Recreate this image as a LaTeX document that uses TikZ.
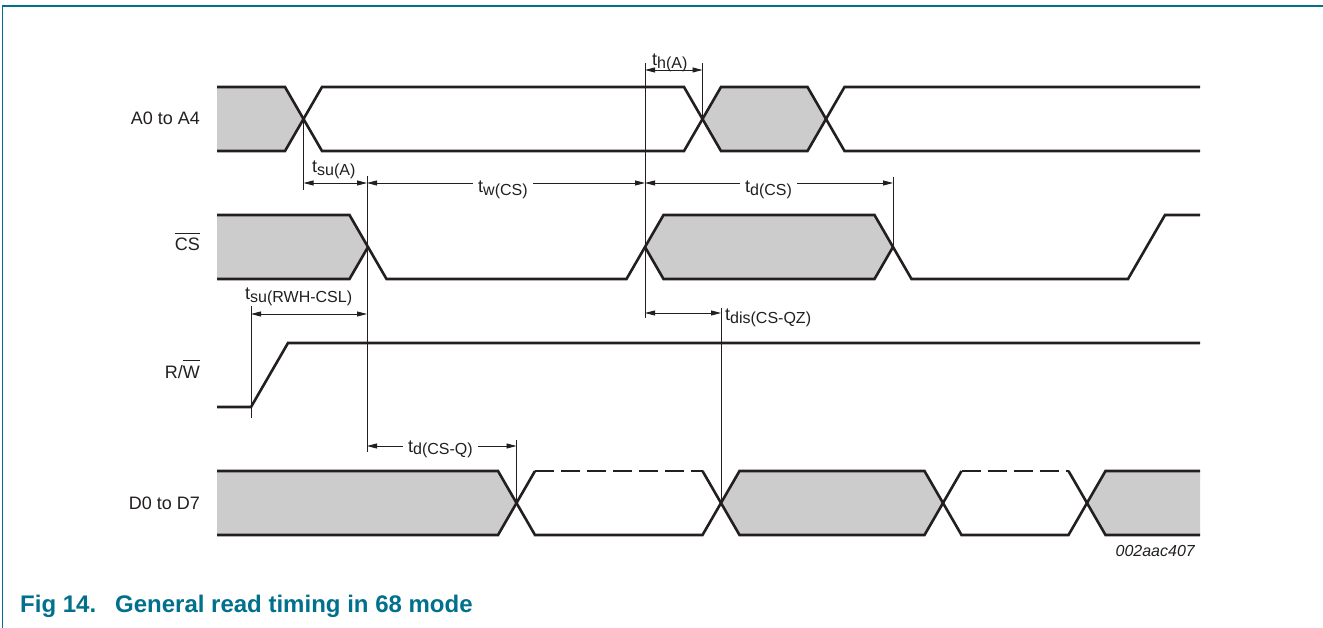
\documentclass[tikz,border=0pt]{standalone}
\usepackage{fontspec}
\setmainfont{Liberation Sans}
\usetikzlibrary{arrows.meta}
\definecolor{nxpteal}{RGB}{0,112,140}
\definecolor{ink}{RGB}{35,31,32}
\definecolor{shade}{RGB}{204,204,204}
\newsavebox\ovlbox
\newcommand\ovl[1]{\sbox\ovlbox{#1}\rlap{\rule[17pt]{\wd\ovlbox}{0.9pt}}\usebox\ovlbox}
\newcommand\tlab[1]{t\raisebox{-2.5pt}{\fontsize{16}{18}\selectfont #1}}
\begin{document}
\begin{tikzpicture}[x=1pt,y=-1pt,
  sig/.style={draw=ink,line width=2.6pt,line join=miter},
  sigdash/.style={sig,dash pattern=on 19pt off 7pt},
  busfill/.style={fill=shade,draw=none},
  extline/.style={draw=ink,line width=0.9pt},
  dimarrow/.style={draw=ink,line width=0.9pt,{Triangle[length=10pt,width=5pt]}-{Triangle[length=10pt,width=5pt]}},
  siglabel/.style={font=\fontsize{18}{20}\selectfont,inner sep=0pt,text=ink},
  dimlabel/.style={font=\fontsize{18}{20}\selectfont,inner sep=0pt,text=ink},
  onlinelabel/.style={dimlabel,fill=white,inner xsep=5pt,inner ysep=1pt},
  caption/.style={font=\fontsize{24}{28}\selectfont\bfseries,inner sep=0pt,text=nxpteal},
  frameline/.style={draw=nxpteal,line width=1.3pt}
]
\useasboundingbox (0,0) rectangle (1323,628);
\fill[white] (0,0) rectangle (1323,628);
% frame
\draw[frameline] (2.7,628) -- (2.7,6) -- (1323,6);

% ---------- A0 to A4 ----------
\fill[busfill] (217,87) -- (285,87) -- (303.5,119) -- (285,151) -- (217,151) -- cycle;
\fill[busfill] (702.5,119) -- (721,87) -- (807.5,87) -- (826,119) -- (807.5,151) -- (721,151) -- cycle;
\draw[sig] (217,87) -- (285,87) -- (322,151) -- (684,151) -- (721,87) -- (807.5,87) -- (844.5,151) -- (1200,151);
\draw[sig] (217,151) -- (285,151) -- (322,87) -- (684,87) -- (721,151) -- (807.5,151) -- (844.5,87) -- (1200,87);

% ---------- CS ----------
\fill[busfill] (217,215) -- (349.5,215) -- (368,247) -- (349.5,279) -- (217,279) -- cycle;
\fill[busfill] (645,247) -- (663.5,215) -- (874.5,215) -- (893,247) -- (874.5,279) -- (663.5,279) -- cycle;
\draw[sig] (217,215) -- (349.5,215) -- (386.5,279) -- (626.5,279) -- (663.5,215) -- (874.5,215) -- (911.5,279) -- (1128,279) -- (1165,215) -- (1200,215);
\draw[sig] (217,279) -- (349.5,279) -- (368,247);
\draw[sig] (645,247) -- (663.5,279) -- (874.5,279) -- (893,247);

% ---------- R/W ----------
\draw[sig] (217,407) -- (251,407) -- (288,343) -- (1200,343);

% ---------- D0 to D7 ----------
\fill[busfill] (217,471) -- (498,471) -- (516.5,503) -- (498,535) -- (217,535) -- cycle;
\fill[busfill] (721,503) -- (739.5,471) -- (924.5,471) -- (943,503) -- (924.5,535) -- (739.5,535) -- cycle;
\fill[busfill] (1087,503) -- (1105.5,471) -- (1200,471) -- (1200,535) -- (1105.5,535) -- cycle;
\draw[sig] (217,471) -- (498,471) -- (535,535) -- (702.5,535) -- (739.5,471) -- (924.5,471) -- (961.5,535) -- (1068.5,535) -- (1105.5,471) -- (1200,471);
\draw[sig] (217,535) -- (498,535) -- (535,471);
\draw[sigdash] (535,471) -- (702.5,471);
\draw[sig] (702.5,471) -- (739.5,535) -- (924.5,535) -- (961.5,471);
\draw[sigdash] (961.5,471) -- (1068.5,471);
\draw[sig] (1068.5,471) -- (1105.5,535) -- (1200,535);

% ---------- signal labels ----------
\node[siglabel,anchor=base east] (lA) at (200,124.5) {A0 to A4};
\node[siglabel,anchor=base east] (lCS) at (200,251) {\ovl{CS}};
\node[siglabel,anchor=base east] (lRW) at (200,378) {R/\ovl{W}};
\node[siglabel,anchor=base east] (lD) at (200,509.5) {D0 to D7};

% ---------- extension lines ----------
\coordinate (e1t) at (303.5,119); \coordinate (e1b) at (303.5,190);
\coordinate (e2t) at (367,176);   \coordinate (e2b) at (367,452);
\coordinate (e3t) at (645,63);    \coordinate (e3b) at (645,318);
\coordinate (e4t) at (702.5,63);  \coordinate (e4b) at (702.5,119);
\coordinate (e5t) at (893,177);   \coordinate (e5b) at (893,247);
\coordinate (e6t) at (251,306);   \coordinate (e6b) at (251,418);
\coordinate (e7t) at (721,308);   \coordinate (e7b) at (721,503);
\coordinate (e8t) at (516.5,440); \coordinate (e8b) at (516.5,503);
\foreach \i in {1,...,8} {\draw[extline] (e\i t) -- (e\i b);}

% ---------- dimension arrows ----------
\coordinate (thAl) at (645,70);   \coordinate (thAr) at (702.5,70);
\coordinate (tsuAl) at (303.5,183); \coordinate (tsuAr) at (367,183);
\coordinate (twl) at (367,183);   \coordinate (twr) at (645,183);
\coordinate (tdl) at (645,183);   \coordinate (tdr) at (893,183);
\coordinate (trwl) at (251,314);  \coordinate (trwr) at (367,314);
\coordinate (tdisl) at (645,313); \coordinate (tdisr) at (721,313);
\coordinate (tdql) at (367,446);  \coordinate (tdqr) at (516.5,446);
\draw[dimarrow] (thAl) -- (thAr);
\draw[dimarrow] (tsuAl) -- (tsuAr);
\draw[dimarrow] (twl) -- (twr);
\draw[dimarrow] (tdl) -- (tdr);
\draw[dimarrow] (trwl) -- (trwr);
\draw[dimarrow] (tdisl) -- (tdisr);
\draw[dimarrow] (tdql) -- (tdqr);

% ---------- dimension labels ----------
\node[dimlabel,anchor=base west] (lthA) at (652,66) {\tlab{h(A)}};
\node[dimlabel,anchor=base west] (ltsuA) at (312,173) {\tlab{su(A)}};
\node[onlinelabel,anchor=base west] (ltw) at (473,193) {\tlab{w(CS)}};
\node[onlinelabel,anchor=base west] (ltd) at (740,193) {\tlab{d(CS)}};
\node[dimlabel,anchor=base west] (ltrw) at (245,300) {\tlab{su(RWH-CSL)}};
\node[dimlabel,anchor=base west] (ltdis) at (725,321) {\tlab{dis(CS-QZ)}};
\node[onlinelabel,anchor=base west] (ltdq) at (403,452) {\tlab{d(CS-Q)}};

% ---------- id and caption ----------
\node[anchor=base east,font=\fontsize{16}{18}\selectfont\itshape,inner sep=0pt,text=ink] (fid) at (1195,556.5) {002aac407};
\node[caption,anchor=base west] (cap1) at (20,612) {Fig 14.};
\node[caption,anchor=base west] (cap2) at (115,612) {General read timing in 68 mode};
\end{tikzpicture}
\end{document}
